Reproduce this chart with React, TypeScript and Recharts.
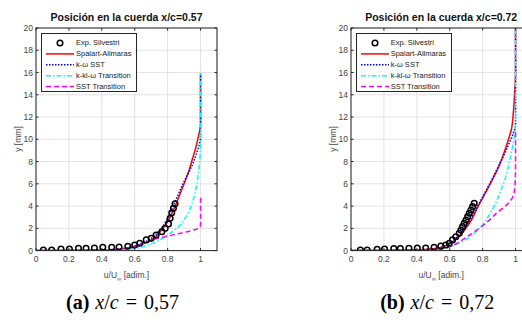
import React from 'react';
import { ComposedChart, Line, Scatter, XAxis, YAxis, CartesianGrid } from 'recharts';

const X_TICKS = [0, 0.2, 0.4, 0.6, 0.8, 1];
const Y_TICKS = [0, 2, 4, 6, 8, 10, 12, 14, 16, 18, 20];

// x/c = 0.57
const exp57 = [
  { x: 0.045, y: 0.06 }, { x: 0.095, y: 0.06 }, { x: 0.152, y: 0.15 }, { x: 0.203, y: 0.15 },
  { x: 0.258, y: 0.2 }, { x: 0.304, y: 0.2 }, { x: 0.355, y: 0.24 }, { x: 0.406, y: 0.3 },
  { x: 0.46, y: 0.3 }, { x: 0.505, y: 0.33 }, { x: 0.558, y: 0.39 }, { x: 0.6, y: 0.5 },
  { x: 0.63, y: 0.66 }, { x: 0.67, y: 0.96 }, { x: 0.7, y: 1.1 }, { x: 0.73, y: 1.4 },
  { x: 0.765, y: 1.7 }, { x: 0.785, y: 2.0 }, { x: 0.805, y: 2.4 }, { x: 0.815, y: 2.9 },
  { x: 0.825, y: 3.4 }, { x: 0.835, y: 3.8 }, { x: 0.845, y: 4.2 },
];
const sa57 = [
  { x: 0, y: 0 }, { x: 0.3, y: 0.04 }, { x: 0.5, y: 0.12 }, { x: 0.58, y: 0.3 }, { x: 0.65, y: 0.6 },
  { x: 0.7, y: 0.95 }, { x: 0.75, y: 1.6 }, { x: 0.8, y: 2.6 }, { x: 0.84, y: 3.8 }, { x: 0.87, y: 4.9 },
  { x: 0.9, y: 6.0 }, { x: 0.93, y: 7.2 }, { x: 0.95, y: 8.2 }, { x: 0.97, y: 9.2 }, { x: 0.985, y: 10.1 },
  { x: 0.995, y: 10.8 }, { x: 1.0, y: 11.3 }, { x: 1.0, y: 15.9 },
];
const sst57 = [
  { x: 0, y: 0 }, { x: 0.3, y: 0.04 }, { x: 0.5, y: 0.12 }, { x: 0.58, y: 0.35 }, { x: 0.65, y: 0.7 },
  { x: 0.7, y: 1.1 }, { x: 0.75, y: 1.8 }, { x: 0.8, y: 2.9 }, { x: 0.83, y: 3.9 }, { x: 0.86, y: 4.9 },
  { x: 0.89, y: 5.9 }, { x: 0.92, y: 6.8 }, { x: 0.95, y: 7.7 }, { x: 0.97, y: 8.5 }, { x: 0.99, y: 9.4 },
  { x: 1.0, y: 10.2 }, { x: 1.0, y: 15.9 },
];
const kkl57 = [
  { x: 0, y: 0 }, { x: 0.3, y: 0.03 }, { x: 0.5, y: 0.08 }, { x: 0.6, y: 0.2 }, { x: 0.67, y: 0.45 },
  { x: 0.73, y: 0.8 }, { x: 0.78, y: 1.2 }, { x: 0.83, y: 1.7 }, { x: 0.87, y: 2.2 }, { x: 0.91, y: 3.0 },
  { x: 0.94, y: 3.9 }, { x: 0.96, y: 4.8 }, { x: 0.975, y: 5.8 }, { x: 0.988, y: 7.0 }, { x: 0.996, y: 8.3 },
  { x: 1.0, y: 9.6 }, { x: 1.0, y: 15.9 },
];
const sstt57 = [
  { x: 0, y: 0 }, { x: 0.3, y: 0.03 }, { x: 0.5, y: 0.1 }, { x: 0.58, y: 0.25 }, { x: 0.63, y: 0.55 },
  { x: 0.68, y: 0.85 }, { x: 0.74, y: 1.1 }, { x: 0.8, y: 1.3 }, { x: 0.86, y: 1.5 }, { x: 0.92, y: 1.7 },
  { x: 0.97, y: 1.9 }, { x: 0.995, y: 2.05 }, { x: 1.0, y: 2.4 }, { x: 1.0, y: 4.8 },
];

// x/c = 0.72
const exp72 = [
  { x: 0.057, y: 0.06 }, { x: 0.098, y: 0.06 }, { x: 0.159, y: 0.12 }, { x: 0.204, y: 0.15 },
  { x: 0.26, y: 0.18 }, { x: 0.3, y: 0.18 }, { x: 0.352, y: 0.2 }, { x: 0.403, y: 0.22 },
  { x: 0.454, y: 0.24 }, { x: 0.505, y: 0.3 }, { x: 0.546, y: 0.4 }, { x: 0.576, y: 0.5 },
  { x: 0.597, y: 0.66 }, { x: 0.617, y: 0.96 }, { x: 0.637, y: 1.25 }, { x: 0.658, y: 1.55 },
  { x: 0.668, y: 1.85 }, { x: 0.678, y: 2.15 }, { x: 0.688, y: 2.45 }, { x: 0.699, y: 2.75 },
  { x: 0.709, y: 3.05 }, { x: 0.719, y: 3.35 }, { x: 0.729, y: 3.65 }, { x: 0.739, y: 3.95 },
  { x: 0.749, y: 4.25 },
];
const sa72 = [
  { x: 0, y: 0 }, { x: 0.3, y: 0.04 }, { x: 0.45, y: 0.1 }, { x: 0.52, y: 0.2 }, { x: 0.57, y: 0.4 },
  { x: 0.61, y: 0.7 }, { x: 0.65, y: 1.2 }, { x: 0.69, y: 1.85 }, { x: 0.73, y: 2.7 }, { x: 0.77, y: 3.9 },
  { x: 0.81, y: 5.0 }, { x: 0.85, y: 6.1 }, { x: 0.9, y: 7.6 }, { x: 0.93, y: 8.8 }, { x: 0.955, y: 9.9 },
  { x: 0.975, y: 10.9 }, { x: 0.987, y: 12.5 }, { x: 0.995, y: 14.3 }, { x: 1.0, y: 15.8 }, { x: 1.0, y: 20 },
];
const sst72 = [
  { x: 0, y: 0 }, { x: 0.3, y: 0.04 }, { x: 0.45, y: 0.1 }, { x: 0.52, y: 0.2 }, { x: 0.57, y: 0.45 },
  { x: 0.61, y: 0.75 }, { x: 0.65, y: 1.3 }, { x: 0.69, y: 2.0 }, { x: 0.73, y: 2.9 }, { x: 0.77, y: 4.0 },
  { x: 0.81, y: 5.1 }, { x: 0.85, y: 6.2 }, { x: 0.89, y: 7.4 }, { x: 0.93, y: 8.6 }, { x: 0.96, y: 9.6 },
  { x: 0.985, y: 10.5 }, { x: 1.0, y: 11.3 }, { x: 1.0, y: 20 },
];
const kkl72 = [
  { x: 0, y: 0 }, { x: 0.3, y: 0.03 }, { x: 0.5, y: 0.08 }, { x: 0.56, y: 0.2 }, { x: 0.62, y: 0.45 },
  { x: 0.68, y: 0.85 }, { x: 0.74, y: 1.45 }, { x: 0.79, y: 2.15 }, { x: 0.84, y: 3.2 }, { x: 0.88, y: 4.3 },
  { x: 0.91, y: 5.4 }, { x: 0.94, y: 6.6 }, { x: 0.96, y: 7.8 }, { x: 0.98, y: 9.2 }, { x: 0.993, y: 10.4 },
  { x: 1.0, y: 11.5 }, { x: 1.0, y: 20 },
];
const sstt72 = [
  { x: 0, y: 0 }, { x: 0.3, y: 0.03 }, { x: 0.5, y: 0.1 }, { x: 0.58, y: 0.25 }, { x: 0.63, y: 0.55 },
  { x: 0.67, y: 0.9 }, { x: 0.72, y: 1.4 }, { x: 0.77, y: 1.9 }, { x: 0.83, y: 2.6 }, { x: 0.88, y: 3.3 },
  { x: 0.93, y: 3.9 }, { x: 0.965, y: 4.4 }, { x: 0.988, y: 5.0 }, { x: 0.997, y: 6.0 }, { x: 1.0, y: 7.5 },
  { x: 1.0, y: 10.9 },
];

const FONT = '"Liberation Sans", Arial, Helvetica, sans-serif';
const AXIS = '#262626';

const SERIES = [
  { name: 'Spalart-Allmaras', color: '#ff0000', dash: undefined as string | undefined },
  { name: 'k-\u03c9 SST', color: '#0000ff', dash: '1.5 1.5' },
  { name: 'k-kl-\u03c9 Transition', color: '#00ffff', dash: '5 2 1.5 2' },
  { name: 'SST Transition', color: '#ff00ff', dash: '5 3' },
];

const W = 260;
const H = 290;
const M = { top: 28, right: 43, left: 0, bottom: 9.4 };
const YW = 36;
const XH = 30;
const X_MAX = 1.1;
const Y_MAX = 20;

const ExpDot = (p: any) => (
  <circle cx={p.cx} cy={p.cy} r={2.8} fill="none" stroke="#000" strokeWidth={1.5} />
);

function Legend() {
  const rowH = 10.9;
  return (
    <div
      style={{
        position: 'absolute', left: 41, top: 33, width: 96, height: 59, boxSizing: 'border-box',
        border: `1px solid ${AXIS}`, background: '#fff', fontFamily: FONT, fontSize: 7.5, color: '#222',
      }}
    >
      <svg width={94} height={57} style={{ position: 'absolute', left: 0, top: 0 }}>
        <circle cx={18} cy={9} r={2.8} fill="none" stroke="#000" strokeWidth={1.5} />
        {SERIES.map((s, i) => (
          <line
            key={s.name}
            x1={4} x2={32} y1={9 + rowH * (i + 1)} y2={9 + rowH * (i + 1)}
            stroke={s.color} strokeWidth={1.5} strokeDasharray={s.dash}
          />
        ))}
      </svg>
      {['Exp. Silvestri', ...SERIES.map((s) => s.name)].map((t, i) => (
        <div
          key={t}
          style={{ position: 'absolute', left: 34, top: 9 + rowH * i - 5, lineHeight: '10px', whiteSpace: 'nowrap' }}
        >
          {t}
        </div>
      ))}
    </div>
  );
}

// MATLAB-style box with inward tick marks
function Box({ l, t, r, b }: { l: number; t: number; r: number; b: number }) {
  const w = r - l;
  const h = b - t;
  const tl = 2.5;
  return (
    <svg
      width={w + 2} height={h + 2}
      style={{ position: 'absolute', left: l - 1, top: t - 1, pointerEvents: 'none', overflow: 'visible' }}
    >
      <rect x={1} y={1} width={w} height={h} fill="none" stroke={AXIS} strokeWidth={1} />
      {X_TICKS.map((v) => {
        const x = 1 + (v / X_MAX) * w;
        return (
          <g key={`x${v}`}>
            <line x1={x} x2={x} y1={1 + h} y2={1 + h - tl} stroke={AXIS} />
            <line x1={x} x2={x} y1={1} y2={1 + tl} stroke={AXIS} />
          </g>
        );
      })}
      {Y_TICKS.map((v) => {
        const y = 1 + h - (v / Y_MAX) * h;
        return (
          <g key={`y${v}`}>
            <line x1={1} x2={1 + tl} y1={y} y2={y} stroke={AXIS} />
            <line x1={1 + w} x2={1 + w - tl} y1={y} y2={y} stroke={AXIS} />
          </g>
        );
      })}
    </svg>
  );
}

function Panel({ left, title, exp, curves, caption, label }: any) {
  const plotL = M.left + YW;
  const plotR = W - M.right;
  const plotB = H - M.bottom - XH;
  const cx = (plotL + plotR) / 2;
  return (
    <div style={{ position: 'absolute', left, top: 0, width: W, height: 326 }}>
      <div
        style={{
          position: 'absolute', left: cx, top: 11, transform: 'translateX(-50%)', whiteSpace: 'nowrap',
          fontFamily: FONT, fontWeight: 'bold', fontSize: 10.5, lineHeight: '12px', color: '#111',
        }}
      >
        {title}
      </div>
      <ComposedChart width={W} height={H} margin={M}>
        <CartesianGrid stroke="#e3e3e3" strokeWidth={1} />
        <XAxis
          type="number" dataKey="x" domain={[0, X_MAX]} ticks={X_TICKS} interval={0} allowDataOverflow
          height={XH} axisLine={false} tickLine={false} tickSize={3} tickMargin={2}
          tick={{ fontSize: 8.5, fill: '#444', fontFamily: FONT }}
        />
        <YAxis
          type="number" dataKey="y" domain={[0, Y_MAX]} ticks={Y_TICKS} interval={0} allowDataOverflow
          width={YW} axisLine={false} tickLine={false} tickSize={1} tickMargin={2}
          tick={{ fontSize: 8.5, fill: '#444', fontFamily: FONT }}
        />
        <Scatter data={exp} shape={ExpDot} isAnimationActive={false} />
        {curves.map((d: any, i: number) => (
          <Line
            key={SERIES[i].name} data={d} dataKey="y" type="monotoneY" dot={false} activeDot={false}
            stroke={SERIES[i].color} strokeWidth={1.5} strokeDasharray={SERIES[i].dash}
            isAnimationActive={false}
          />
        ))}
      </ComposedChart>
      <Box l={plotL} t={M.top} r={plotR} b={plotB} />
      <Legend />
      <div
        style={{
          position: 'absolute', left: 18, top: (M.top + plotB) / 2, transform: 'translate(-50%, -50%) rotate(-90deg)',
          whiteSpace: 'nowrap', fontFamily: FONT, fontSize: 8.5, color: '#444',
        }}
      >
        y [mm]
      </div>
      <div
        style={{
          position: 'absolute', left: cx, top: 270, transform: 'translateX(-50%)', whiteSpace: 'nowrap',
          fontFamily: FONT, fontSize: 8.5, color: '#444', lineHeight: '10px',
        }}
      >
        u/U<sub style={{ fontSize: 6 }}>{'\u221e'}</sub> [adim.]
      </div>
      <div
        style={{
          position: 'absolute', left: cx - 4, top: 290, transform: 'translateX(-50%)', whiteSpace: 'nowrap',
          fontFamily: '"Liberation Serif", "DejaVu Serif", serif', fontSize: 20, lineHeight: '24px', color: '#000',
        }}
      >
        <b>({label})</b>
        <span style={{ marginLeft: 6 }}><i>x</i>/<i>c</i></span>
        <span style={{ margin: '0 7px' }}>=</span>
        {caption}
      </div>
    </div>
  );
}

export default function App() {
  return (
    <div style={{ position: 'absolute', left: 0, top: 0, width: 522, height: 326, overflow: 'hidden', background: '#fff' }}>
      <Panel
        left={0} title="Posición en la cuerda x/c=0.57" exp={exp57}
        curves={[sa57, sst57, kkl57, sstt57]} caption="0,57" label="a"
      />
      <Panel
        left={314.7} title="Posición en la cuerda x/c=0.72" exp={exp72}
        curves={[sa72, sst72, kkl72, sstt72]} caption="0,72" label="b"
      />
    </div>
  );
}
